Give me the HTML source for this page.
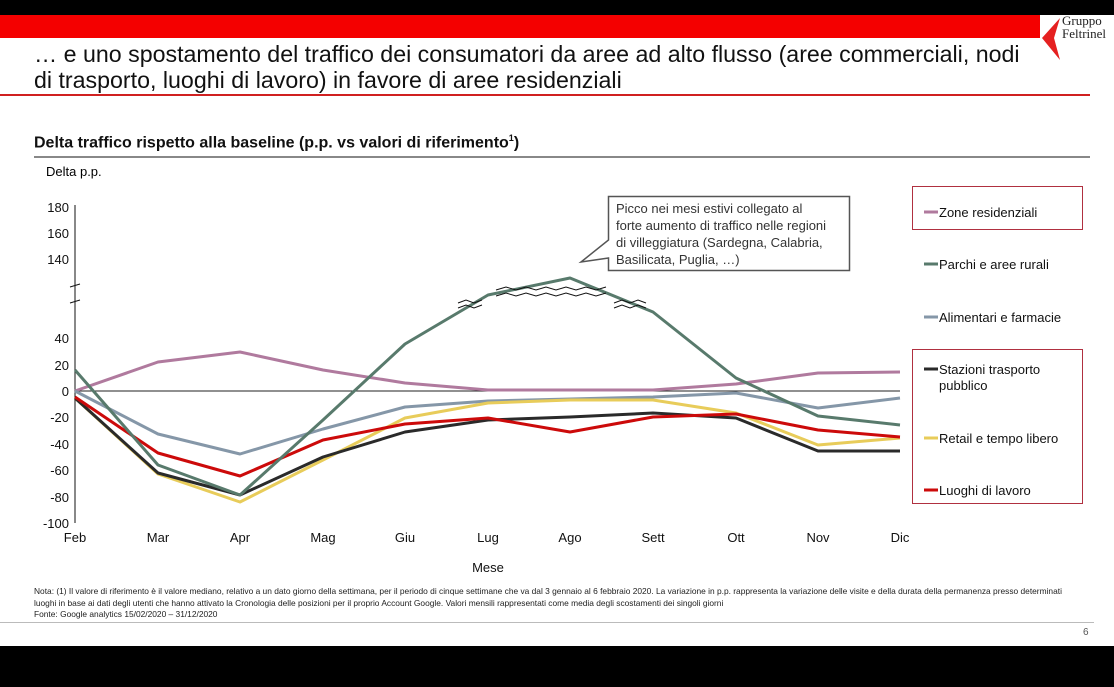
<!DOCTYPE html><html><head><style>
body{margin:0;width:1114px;height:687px;overflow:hidden;background:#fff;font-family:"Liberation Sans",sans-serif;position:relative}
.a{position:absolute}
</style></head><body>
<div class="a" style="left:0;top:0;width:1114px;height:15px;background:#000"></div>
<div class="a" style="left:0;top:15px;width:1040px;height:23px;background:#f40000"></div>
<div class="a" style="left:1062px;top:14px;font-family:'Liberation Serif',serif;font-size:13px;line-height:13px;color:#222">Gruppo<br>Feltrinel</div>
<svg class="a" style="left:1040px;top:18px" width="24" height="44"><path d="M20 0 L2 20 L20 42 L14 20 Z" fill="#e52020"/></svg>
<div class="a" style="left:34px;top:41px;font-size:23.2px;line-height:26px;color:#111;white-space:nowrap">… e uno spostamento del traffico dei consumatori da aree ad alto flusso (aree commerciali, nodi<br>di trasporto, luoghi di lavoro) in favore di aree residenziali</div>
<div class="a" style="left:0;top:94px;width:1090px;height:2px;background:#d02020"></div>
<div class="a" style="left:34px;top:133px;font-size:16px;font-weight:bold;color:#111">Delta traffico rispetto alla baseline (p.p. vs valori di riferimento<sup style="font-size:9px">1</sup>)</div>
<div class="a" style="left:34px;top:156px;width:1056px;height:2px;background:#888"></div>
<div class="a" style="left:46px;top:164px;font-size:13px">Delta p.p.</div>
<svg class="a" style="left:0;top:0" width="1114" height="687" font-family="Liberation Sans" font-size="13">
<g text-anchor="end" fill="#111">
<text x="69" y="212">180</text><text x="69" y="238">160</text><text x="69" y="264">140</text>
<text x="69" y="343">40</text><text x="69" y="370">20</text><text x="69" y="396">0</text><text x="69" y="422">-20</text><text x="69" y="449">-40</text><text x="69" y="475">-60</text><text x="69" y="502">-80</text><text x="69" y="528">-100</text>
</g>
<line x1="75" y1="205" x2="75" y2="523" stroke="#111"/>
<path d="M70 287 L80 284 M70 303 L80 300" stroke="#111"/>
<line x1="75" y1="391" x2="900" y2="391" stroke="#222"/>
<g text-anchor="middle" fill="#111">
<text x="75" y="542">Feb</text><text x="158" y="542">Mar</text><text x="240" y="542">Apr</text><text x="323" y="542">Mag</text><text x="405" y="542">Giu</text><text x="488" y="542">Lug</text><text x="570" y="542">Ago</text><text x="653" y="542">Sett</text><text x="736" y="542">Ott</text><text x="818" y="542">Nov</text><text x="900" y="542">Dic</text>
<text x="488" y="572">Mese</text></g>
<g fill="none" stroke-width="3" stroke-linejoin="round">
<polyline stroke="#b07a9e" points="75,391 158,362 240,352 323,370 405,383 488,390 570,390 653,390 736,384 818,373 900,372"/>
<polyline stroke="#8597a8" points="75,391 158,434 240,454 323,429 405,407 488,401 570,399 653,397 736,393 818,408 900,398"/>
<polyline stroke="#e8cc5a" points="75,398 158,474 240,502 323,460 405,418 488,403 570,400 653,400 736,413 818,445 900,438"/>
<polyline stroke="#2a2a2a" points="75,398 158,473 240,495 323,457 405,432 488,420 570,417 653,413 736,418 818,451 900,451"/>
<polyline stroke="#cc0a0a" points="75,397 158,453 240,476 323,440 405,424 488,418 570,432 653,417 736,414 818,430 900,437"/>
<polyline stroke="#587a6c" points="75,370 158,465 240,495 323,420 405,344 488,295 570,278 653,312 736,378 818,416 900,425"/>
</g>
<g fill="none" stroke="#111" stroke-width="1">
<path d="M458 303 l8 -3 l8 3 l8 -3 M458 308 l8 -3 l8 3 l8 -3"/>
<path d="M496 290 l10 -3 l10 3 l10 -3 l10 3 l10 -3 l10 3 l10 -3 l10 3 l10 -3 l10 3 l10 -3 M496 296 l10 -3 l10 3 l10 -3 l10 3 l10 -3 l10 3 l10 -3 l10 3 l10 -3 l10 3 l10 -3"/>
<path d="M614 303 l8 -3 l8 3 l8 -3 l8 3 M614 308 l8 -3 l8 3 l8 -3 l8 3"/>
</g>
<path d="M608.5 196.5 H849.5 V270.5 H608.5 V258 L581 262 L608.5 240 Z" fill="#fff" stroke="#555" stroke-width="1.5"/>
<g fill="#333"><text x="616" y="213">Picco nei mesi estivi collegato al</text><text x="616" y="230">forte aumento di traffico nelle regioni</text><text x="616" y="247">di villeggiatura (Sardegna, Calabria,</text><text x="616" y="264">Basilicata, Puglia, …)</text></g>
<rect x="912.5" y="186.5" width="170" height="43" fill="none" stroke="#b03040"/>
<rect x="912.5" y="349.5" width="170" height="154" fill="none" stroke="#b03040"/>
<g stroke-width="3"><line x1="924" y1="212" x2="938" y2="212" stroke="#b07a9e"/><line x1="924" y1="264" x2="938" y2="264" stroke="#587a6c"/><line x1="924" y1="317" x2="938" y2="317" stroke="#8597a8"/><line x1="924" y1="369" x2="938" y2="369" stroke="#2a2a2a"/><line x1="924" y1="438" x2="938" y2="438" stroke="#e8cc5a"/><line x1="924" y1="490" x2="938" y2="490" stroke="#cc0a0a"/></g>
<g fill="#111"><text x="939" y="217">Zone residenziali</text><text x="939" y="269">Parchi e aree rurali</text><text x="939" y="322">Alimentari e farmacie</text><text x="939" y="374">Stazioni trasporto</text><text x="939" y="390">pubblico</text><text x="939" y="443">Retail e tempo libero</text><text x="939" y="495">Luoghi di lavoro</text></g>
</svg>
<div class="a" style="left:34px;top:586px;width:1030px;font-size:8.4px;line-height:11.5px;color:#222">Nota: (1) Il valore di riferimento è il valore mediano, relativo a un dato giorno della settimana, per il periodo di cinque settimane che va dal 3 gennaio al 6 febbraio 2020. La variazione in p.p. rappresenta la variazione delle visite e della durata della permanenza presso determinati luoghi in base ai dati degli utenti che hanno attivato la Cronologia delle posizioni per il proprio Account Google. Valori mensili rappresentati come media degli scostamenti dei singoli giorni<br>Fonte: Google analytics 15/02/2020 – 31/12/2020</div>
<div class="a" style="left:0;top:622px;width:1094px;height:1px;background:#bbb"></div>
<div class="a" style="left:1083px;top:627px;font-size:10px;color:#555">6</div>
<div class="a" style="left:0;top:646px;width:1114px;height:41px;background:#000"></div>
</body></html>
